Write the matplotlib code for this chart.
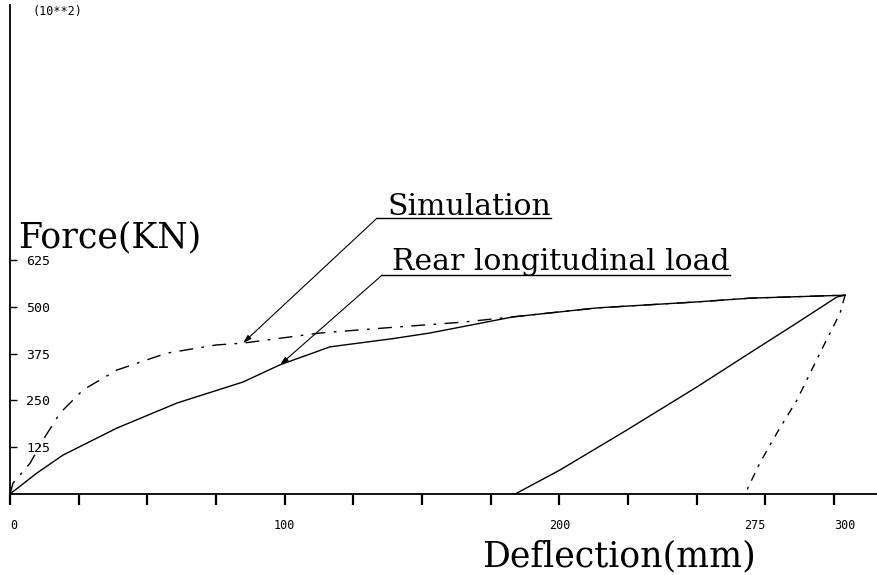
import numpy as np
import matplotlib
matplotlib.use("Agg")
import matplotlib.pyplot as plt

# rear longitudinal load (test) - loading and unloading branches
rear_load_x = [0, 9.8, 19.3, 38.9, 60.8, 84.8, 98.3, 116.5, 139.4, 152.9, 183.1, 213.7, 250.1, 269.4, 304]
rear_load_y = [0, 56, 104, 176, 243, 299, 345, 393, 415, 430, 473, 497, 513, 523, 531]
rear_unload_x = [304, 301, 286.5, 269.4, 250.1, 224.6, 200.2, 183.9]
rear_unload_y = [531, 526, 457, 377, 286, 171, 64, 0]

# simulation
sim_load_x = [0, 1.1, 7.3, 12, 18.2, 26.6, 38.9, 57, 75, 84.8, 112.9, 140.9, 164.9, 183, 213.7, 250.1, 269.4, 304]
sim_load_y = [0, 29, 82, 144, 216, 278, 331, 376, 398, 403, 430, 446, 459, 473, 497, 513, 523, 531]
sim_unload_x = [304, 302.2, 294.9, 286.5, 279.2, 273, 268.3, 266.5]
sim_unload_y = [531, 483, 377, 251, 163, 83, 11, 0]

xticks = [0, 25, 50, 75, 100, 125, 150, 175, 200, 225, 250, 275, 300]
xtick_labels = {0: "0", 100: "100", 200: "200", 275: "275", 300: "300"}
yticks = [125, 250, 375, 500, 625]

# annotation anchors (label position, arrow tip)
sim_label = (137.3, 745)
sim_tip = (84.8, 403)
rear_label = (139.1, 598)
rear_tip = (98.3, 345)

fig = plt.figure(figsize=(8.78, 5.75), dpi=100)
ax = fig.add_axes([10/878, 81/575, 868/878, 489/575])

lw = 1.0
ax.plot(rear_load_x, rear_load_y, color="black", lw=lw)
ax.plot(rear_unload_x, rear_unload_y, color="black", lw=lw)
ax.plot(sim_load_x, sim_load_y, color="black", lw=lw, ls=(0, (10, 6, 2, 6)))
ax.plot(sim_unload_x, sim_unload_y, color="black", lw=lw, ls=(0, (6, 5, 2, 5)))

ax.set_xlim(0, 316)
ax.set_ylim(0, 1306)

for s in ["top", "right"]:
    ax.spines[s].set_visible(False)
ax.spines["left"].set_linewidth(1.3)
ax.spines["bottom"].set_linewidth(1.3)

mono = "DejaVu Sans Mono"
ax.set_xticks(xticks)
ax.set_xticklabels([xtick_labels.get(v, "") for v in xticks], family=mono)
ax.tick_params(axis="x", direction="out", length=8, width=1.6, pad=10, labelsize=8.5)
for v, t in zip(xticks, ax.get_xticklabels()):
    if v == 0 or v == 300:
        t.set_ha("left")
    elif v == 275:
        t.set_ha("right")

ax.set_yticks(yticks)
ax.set_yticklabels([str(v) for v in yticks], family=mono)
ax.tick_params(axis="y", direction="in", length=5, width=1.0, pad=-11.5, labelsize=9.5)
for t in ax.get_yticklabels():
    t.set_ha("left")

serif = "DejaVu Serif"
fig.text(18/878, (575-247)/575, "Force(KN)", family=serif, fontsize=25, va="baseline", ha="left")
fig.text(482/878, (575-566)/575, "Deflection(mm)", family=serif, fontsize=25, va="baseline", ha="left")
fig.text(33/878, (575-11)/575, "(10**2)", family=mono, fontsize=8.5, va="center", ha="left")

t_sim = ax.text(*sim_label, "Simulation", family=serif, fontsize=21.5, va="baseline", ha="left")
t_rear = ax.text(*rear_label, "Rear longitudinal load", family=serif, fontsize=21.5, va="baseline", ha="left")

fig.canvas.draw()
inv = ax.transData.inverted()
for t, tip, off in [(t_sim, sim_tip, 3), (t_rear, rear_tip, 1)]:
    bb = t.get_window_extent()
    (x0, y0) = inv.transform((bb.x0 - 10, bb.y0 + off))
    (x1, _) = inv.transform((bb.x1, bb.y0 + off))
    ax.plot([x0, x1], [y0, y0], color="black", lw=1.0)
    ax.annotate("", xy=tip, xytext=(x0, y0),
                arrowprops=dict(arrowstyle="-|>,head_length=0.5,head_width=0.15",
                                color="black", lw=0.8, shrinkA=0, shrinkB=0))

fig.savefig("out.png", dpi=100)
